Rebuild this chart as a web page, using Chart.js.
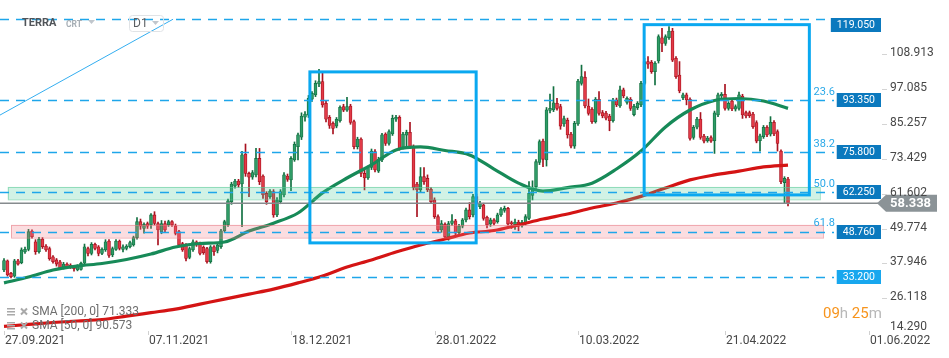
<!DOCTYPE html>
<html><head><meta charset="utf-8">
<script src="https://cdn.jsdelivr.net/npm/chart.js@4.4.0/dist/chart.umd.min.js"></script>
<style>html,body{margin:0;padding:0;background:#fff;}#wrap{width:949px;height:358px;position:relative;}</style>
</head><body><div id="wrap"><canvas id="c" width="949" height="358"></canvas></div>
<script>
// ---- candle data (daily, index 0 = 27.09.2021) ----
const opens = [
35.7,38.8,34.6,33.6,38.8,38.2,41.8,42.7,48.9,45.3,
41.9,46.2,43.8,43.0,40.2,39.1,38.5,36.6,37.7,37.4,
36.8,35.7,35.9,38.0,43.0,41.3,44.4,43.6,41.3,42.5,
45.5,40.8,42.7,45.5,42.7,43.0,43.6,44.2,46.7,52.1,
49.8,51.5,51.0,54.4,51.5,48.7,51.5,51.0,52.1,50.7,
48.7,44.7,44.2,40.0,42.5,45.3,44.7,43.4,43.0,38.5,
43.6,42.3,43.6,49.0,51.0,58.9,64.2,65.9,64.9,75.1,
68.5,67.2,68.0,73.6,67.6,61.7,60.6,62.3,54.4,58.9,
61.2,67.6,66.3,73.1,77.6,80.8,87.6,88.3,93.7,95.2,
98.9,99.7,92.3,87.6,85.5,84.6,86.4,91.2,90.0,91.4,
86.1,77.6,80.2,68.5,67.0,70.5,75.9,69.3,73.1,81.9,
78.7,81.9,86.9,87.6,77.4,81.5,82.5,77.6,64.9,62.9,
67.4,66.8,63.1,59.5,53.8,49.3,51.2,47.0,51.5,52.4,
48.4,50.6,52.7,56.1,54.4,60.6,57.2,57.8,53.6,51.3,
52.7,52.1,54.4,55.9,56.6,51.8,51.0,52.0,50.8,51.5,
53.2,61.0,64.0,72.2,79.5,73.1,89.9,90.1,92.3,91.2,
85.3,86.6,81.9,77.8,85.3,99.1,101.2,91.4,90.3,86.1,
93.7,89.2,89.0,88.0,86.4,93.5,91.4,96.9,92.6,93.7,
88.5,90.8,91.8,99.1,106.5,106.3,103.1,106.7,114.6,112.7,
114.6,116.9,107.6,101.95,94.2,95.2,93.7,80.7,84.2,87.0,
81.2,79.6,80.7,79.6,88.4,94.8,95.4,90.6,93.1,90.3,
90.6,94.8,89.15,89.15,88.7,85.8,79.6,81.0,84.2,81.8,
85.9,82.7,76.1,65.4,66.6];
const highs = [
39.6,39.1,34.9,39.3,39.3,43.2,43.5,49.5,49.3,46.0,
46.8,46.7,44.3,43.5,40.6,39.6,39.0,38.3,38.1,37.8,
37.2,37.5,38.4,44.5,43.5,45.0,44.8,44.0,43.2,46.0,
46.0,43.5,46.0,45.9,44.2,44.3,45.5,47.2,53.5,53.0,
51.7,52.0,54.9,55.5,52.0,52.5,52.3,52.6,52.5,51.3,
49.2,45.1,44.7,43.5,45.9,45.6,45.2,43.9,43.4,44.0,
44.0,44.7,49.5,52.6,59.8,65.5,66.5,66.5,76.0,78.5,
69.0,69.5,77.0,77.0,68.0,62.3,63.0,63.0,60.3,63.0,
68.8,68.3,74.2,79.2,82.2,89.1,89.5,95.0,96.3,100.0,
103.9,103.0,93.0,88.2,86.0,87.5,91.5,92.0,94.4,92.0,
86.6,80.8,80.6,70.0,71.0,76.8,76.6,74.0,82.1,82.3,
83.3,88.3,88.2,88.1,82.5,83.2,85.9,78.2,65.5,70.5,
70.5,68.0,63.7,60.2,54.4,52.5,51.7,52.2,54.5,52.9,
51.2,53.2,56.7,58.6,61.4,61.5,59.0,58.4,54.0,53.3,
53.2,55.0,56.9,57.4,57.0,52.3,53.0,52.6,52.6,54.5,
65.7,66.0,73.2,79.9,80.2,90.9,95.5,98.0,94.0,92.0,
88.0,87.3,82.5,86.2,100.5,105.3,103.1,93.8,90.9,94.3,
96.3,89.9,89.6,88.6,94.0,94.1,98.2,97.5,94.5,94.3,
92.0,92.9,99.8,107.6,108.2,106.9,106.5,115.6,117.8,115.6,
118.4,117.8,108.2,106.5,95.8,95.8,94.2,84.8,87.6,89.2,
81.8,81.1,81.3,89.7,95.8,96.0,98.8,92.9,93.7,91.8,
96.1,95.4,89.7,89.7,89.3,86.4,81.9,84.8,84.8,87.8,
86.5,83.3,76.5,67.4,67.2];
const lows = [
35.1,33.6,33.0,33.2,37.3,37.8,41.3,42.2,46.5,41.0,
41.4,43.0,42.0,39.0,38.0,37.0,36.0,36.0,36.2,36.2,
35.3,35.4,35.6,37.6,40.5,40.8,42.5,40.5,40.9,42.0,
40.0,40.2,42.3,42.5,41.8,42.5,43.2,43.8,46.2,49.5,
48.2,49.8,49.8,51.0,44.2,48.0,48.7,50.5,50.5,47.6,
43.6,42.0,38.8,39.5,42.0,43.7,40.8,41.0,38.0,38.0,
40.6,41.5,43.0,48.5,50.5,58.0,63.5,63.8,50.4,67.5,
60.6,66.5,67.3,64.7,60.0,58.0,60.0,53.6,53.8,58.2,
60.5,65.8,62.6,72.6,73.1,80.0,86.3,87.5,93.0,94.6,
98.0,91.0,86.0,83.8,81.9,84.0,85.9,89.5,89.6,85.2,
76.8,76.8,67.4,62.9,66.5,69.8,69.0,68.8,72.5,78.0,
78.1,81.4,86.2,76.4,76.8,77.0,77.0,62.9,53.8,62.3,
64.8,62.3,58.2,53.2,48.7,48.5,46.3,45.8,50.8,47.5,
47.8,50.0,52.0,53.0,53.7,57.8,56.5,52.6,50.0,50.5,
51.0,51.6,53.9,55.3,50.9,49.8,49.5,49.0,50.2,51.0,
52.8,59.5,63.4,71.5,70.8,71.0,89.1,89.5,90.0,83.5,
84.5,80.5,77.2,77.0,84.8,98.5,90.8,88.3,85.5,85.6,
88.3,87.4,86.7,83.0,85.9,91.2,90.9,94.2,92.0,89.9,
88.0,90.2,91.2,98.6,104.2,102.5,98.6,106.0,109.9,112.0,
114.0,106.5,100.8,95.9,93.6,91.8,79.8,80.1,83.6,80.1,
78.9,79.1,79.0,75.3,87.8,94.2,90.0,90.0,89.8,89.7,
90.0,87.2,87.4,87.5,83.8,78.9,76.1,80.4,81.0,81.2,
81.3,76.1,65.0,58.5,57.5];
const closes = [
38.9,34.0,33.4,38.8,37.7,42.5,42.7,48.7,47.0,41.9,
46.2,43.6,42.5,39.5,38.5,37.7,36.5,37.7,36.6,36.6,
36.1,37.0,38.0,43.6,41.3,44.4,43.0,41.3,42.7,45.3,
40.6,43.0,45.5,43.0,43.6,43.8,45.0,46.7,52.1,50.6,
51.2,50.6,54.4,51.5,49.3,51.5,49.3,52.1,51.0,48.1,
44.2,42.5,39.6,43.0,45.3,44.2,41.3,41.6,38.5,43.6,
41.9,44.2,49.0,52.1,59.2,64.9,65.9,64.6,74.8,68.5,
67.2,68.8,73.6,65.7,61.2,58.9,62.5,54.4,59.5,62.3,
68.0,66.5,73.6,78.4,81.6,88.0,88.7,94.0,95.7,99.1,
99.7,91.8,86.9,84.8,83.8,86.9,91.0,90.0,91.2,85.8,
77.6,80.2,68.5,67.0,70.5,76.1,69.7,73.3,81.6,78.7,
82.7,87.2,87.6,77.0,81.9,82.5,77.6,63.7,62.9,67.4,
65.7,62.9,58.9,53.8,49.3,51.5,47.0,51.5,52.4,48.2,
50.6,52.7,56.1,53.8,60.6,58.5,58.3,53.2,51.0,52.7,
51.5,54.4,56.4,56.6,51.3,51.4,52.0,50.6,51.9,53.8,
61.7,63.4,72.5,79.3,73.3,90.1,90.6,92.5,90.6,84.6,
87.1,81.6,77.8,85.5,99.9,101.4,91.4,88.9,86.1,93.7,
88.9,88.0,87.3,86.4,93.4,91.8,96.9,94.8,94.0,90.6,
91.3,92.3,99.1,106.5,105.6,103.1,105.9,115.0,112.7,115.0,
116.9,107.0,101.4,96.5,95.2,93.5,80.4,84.2,87.0,80.7,
79.5,80.5,79.5,89.1,95.2,95.4,90.6,92.3,90.4,91.2,
95.2,88.4,88.0,88.1,84.4,79.5,81.3,84.2,81.6,85.9,
81.9,78.7,65.7,66.8,58.338];

// ---- moving averages (every 7th candle) ----
const smaIdx = [0,7,14,21,28,35,42,49,56,63,70,77,84,91,98,105,112,119,126,133,140,147,154,161,168,175,182,189,196,203,210,217,224];
const sma50 = [31.3,33.3,35.7,37.05,37.9,39.25,41.1,43.5,44.7,45.2,48.9,51.6,55.05,61.9,66.95,71.4,76.5,77.5,76.3,74.8,70.0,65.2,62.5,63.7,65.2,70.0,76.1,84.3,90.05,93.3,93.96,93.1,90.6];
const sma200 = [16.5,17.2,17.85,18.35,18.86,20.0,21.2,22.4,24.1,25.8,27.5,29.2,31.3,33.65,36.7,39.1,41.8,44.2,46.2,48.25,49.1,51.0,53.0,54.7,56.75,58.45,60.7,63.55,66.3,68.0,69.3,70.7,71.33];
const smaNames = ['SMA [200, 0] 71.333','SMA [50, 0] 90.573'];

// ---- axes ----
const yTicks = [14.290,26.118,37.946,49.774,61.602,73.429,85.257,97.085,108.913];
const xTickIdx = [0,41,82,123,164,206,247];
const xTickLabels = ['27.09.2021','07.11.2021','18.12.2021','28.01.2022','10.03.2022','21.04.2022','01.06.2022'];

// ---- drawings ----
const levelVals = [120.9,93.35,75.8,62.25,48.76,33.2];
const fibVals = [93.35,75.8,62.25,48.76];
const fibNames = ['23.6','38.2','50.0','61.8'];
const tagVals = [119.05,93.35,75.8,62.25,48.76,33.2];
const tagTexts = ['119.050','93.350','75.800','62.250','48.760','33.200'];
const lastPrice = 58.338;
const greenZone = [59.7,63.9], greenZoneIdx = [1.1,233.1];
const pinkZone = [46.7,51.0], pinkZoneIdx = [2,234];
const rect1Idx = [87.4,134.9], rect1Vals = [44.9,103.0];
const rect2Idx = [182.9,230.1], rect2Vals = [61.2,119.05];
const trendIdx = [-1.2,48.3], trendVals = [88.3,120.9];

const N = closes.length;
const idx = Array.from({length:N},(_, i)=>i);
const up = i => closes[i] >= opens[i];
const fillUp='#2f9b66', lineUp='#127041', fillDn='#e23a47', lineDn='#a8121f';

const overlay = {
  id:'overlay',
  afterDatasetsDraw(chart){
    const {ctx, chartArea:a, scales:{x,y}} = chart;
    const X = v => x.getPixelForValue(v), Y = v => y.getPixelForValue(v);
    ctx.save();
    const zone = (vals, ix, fill, stroke) => {
      const x0=X(ix[0]), x1=X(ix[1]), y0=Y(vals[1]), y1=Y(vals[0]);
      ctx.fillStyle=fill; ctx.fillRect(x0,y0,x1-x0,y1-y0);
      ctx.strokeStyle=stroke; ctx.lineWidth=1; ctx.strokeRect(x0+0.5,y0+0.5,x1-x0,y1-y0);
    };
    zone(greenZone, greenZoneIdx, 'rgba(70,205,150,0.25)', 'rgba(90,200,150,0.55)');
    zone(pinkZone, pinkZoneIdx, 'rgba(240,120,130,0.25)', 'rgba(230,120,130,0.55)');
    ctx.strokeStyle='#868b8e'; ctx.lineWidth=1.5; ctx.setLineDash([]);
    ctx.beginPath(); ctx.moveTo(a.left, Y(lastPrice)); ctx.lineTo(878, Y(lastPrice)); ctx.stroke();
    ctx.strokeStyle='#1ea6ea'; ctx.lineWidth=1.3; ctx.setLineDash([9,7]);
    levelVals.forEach(v=>{ const yy=Math.round(Y(v))+0.5; ctx.beginPath(); ctx.moveTo(a.left, yy); ctx.lineTo(834, yy); ctx.stroke(); });
    ctx.setLineDash([]);
    ctx.strokeStyle='#0aa8f0'; ctx.lineWidth=3;
    [[rect1Idx,rect1Vals],[rect2Idx,rect2Vals]].forEach(([ix,vv])=>{
      const x0=X(ix[0]), x1=X(ix[1]), y0=Y(vv[1]), y1=Y(vv[0]);
      ctx.strokeRect(x0,y0,x1-x0,y1-y0);
    });
    ctx.font='11px Roboto'; ctx.fillStyle='#29a8e8'; ctx.textAlign='right'; ctx.textBaseline='middle';
    fibVals.forEach((v,k)=>ctx.fillText(fibNames[k], 835, Y(v)-8));
    ctx.font='10.5px Roboto'; ctx.textAlign='right';
    tagVals.forEach((v,k)=>{
      const w=ctx.measureText(tagTexts[k]).width+12, yc=Y(v);
      ctx.fillStyle = k===tagVals.length-1 ? '#18a7ee' : '#0b79be';
      ctx.fillRect(881-w, Math.round(yc-7), w, 14);
      ctx.fillStyle='#ffffff'; ctx.fillText(tagTexts[k], 875, yc+0.5);
    });
    const yp=Y(lastPrice);
    ctx.fillStyle='#8b9397';
    ctx.beginPath(); ctx.moveTo(877,yp); ctx.lineTo(886,yp-8.5); ctx.lineTo(937,yp-8.5); ctx.lineTo(937,yp+8.5); ctx.lineTo(886,yp+8.5); ctx.closePath(); ctx.fill();
    ctx.fillStyle='#ffffff'; ctx.font='bold 13px Roboto'; ctx.textAlign='left'; ctx.fillText(lastPrice.toFixed(3), 890, yp+0.5);
    ctx.font='12px Roboto'; ctx.fillStyle='#474747'; ctx.textAlign='left';
    yTicks.forEach(v=>{
      let yy=Y(v)-1;
      if (yy>a.bottom-8){ yy=327; }
      else { ctx.strokeStyle='#d4d4d4'; ctx.lineWidth=1; ctx.beginPath(); ctx.moveTo(882,Math.round(Y(v))+0.5); ctx.lineTo(887,Math.round(Y(v))+0.5); ctx.stroke(); }
      ctx.fillStyle='#474747';
      ctx.fillText(v.toFixed(3), 890, yy);
    });
    xTickIdx.forEach((t,k)=>{
      const xx=Math.round(X(t))+0.5;
      ctx.strokeStyle='#d0d0d0'; ctx.lineWidth=1; ctx.beginPath(); ctx.moveTo(xx,a.bottom-2); ctx.lineTo(xx,a.bottom+2); ctx.stroke();
      ctx.fillStyle='#474747'; ctx.font='12px Roboto'; ctx.textAlign='left'; ctx.textBaseline='middle';
      ctx.fillText(xTickLabels[k], xx+0.5, 341);
    });
    ctx.textBaseline='middle'; ctx.textAlign='left';
    ctx.font='bold 11px Roboto'; ctx.fillStyle='#505459'; ctx.fillText('TERRA', 22, 23.5);
    ctx.font='bold 8.5px Roboto'; ctx.fillStyle='#a6aeb5'; ctx.fillText('CRT', 66, 24.5);
    const tri=(x0,y0,c)=>{ctx.fillStyle=c; ctx.beginPath(); ctx.moveTo(x0,y0); ctx.lineTo(x0+7,y0); ctx.lineTo(x0+3.5,y0+4); ctx.closePath(); ctx.fill();};
    tri(88,20,'#c0c6cc');
    ctx.strokeStyle='#e0e3e6'; ctx.lineWidth=1; ctx.beginPath(); ctx.roundRect(129.5,15.5,34,16,3); ctx.stroke();
    ctx.font='12px Roboto'; ctx.fillStyle='#5a5e62'; ctx.fillText('D1', 133, 24);
    tri(152,21,'#c0c6cc');
    ctx.font='12px Roboto';
    smaNames.forEach((s,k)=>{
      const yy=312+k*14;
      ctx.fillStyle='#a9a9a9';
      ctx.fillRect(7,yy-4,8,1.5); ctx.fillRect(7,yy-1,8,1.5); ctx.fillRect(7,yy+2,8,1.5);
      ctx.strokeStyle='#a9a9a9'; ctx.lineWidth=2; ctx.beginPath(); ctx.moveTo(21,yy-3.5); ctx.lineTo(27,yy+2.5); ctx.moveTo(27,yy-3.5); ctx.lineTo(21,yy+2.5); ctx.stroke();
      ctx.fillStyle='#6f6f6f'; ctx.fillText(s, 32, yy);
    });
    ctx.font='15px Roboto'; let cx=823; const cy=314;
    [['09','#f7941d'],['h ','#b8b8b8'],['25','#f7941d'],['m','#b8b8b8']].forEach(([t,c])=>{ctx.fillStyle=c; ctx.fillText(t,cx,cy); cx+=ctx.measureText(t).width;});
    ctx.restore();
  }
};

new Chart(document.getElementById('c'), {
  type:'bar',
  data:{ datasets:[
    { type:'line', data: trendIdx.map((t,k)=>({x:t,y:trendVals[k]})), borderColor:'#34aef0', borderWidth:1, pointRadius:0, order:0 },
    { type:'line', data: smaIdx.map((t,k)=>({x:t,y:sma50[k]})), borderColor:'#178a58', borderWidth:3.2, pointRadius:0, tension:0.4, cubicInterpolationMode:'monotone', order:1 },
    { type:'line', data: smaIdx.map((t,k)=>({x:t,y:sma200[k]})), borderColor:'#d41414', borderWidth:3.2, pointRadius:0, tension:0.4, cubicInterpolationMode:'monotone', order:1 },
    { data: idx.map(i=>({x:i,y:[opens[i],closes[i]]})), backgroundColor: idx.map(i=>up(i)?fillUp:fillDn), borderColor: idx.map(i=>up(i)?lineUp:lineDn), borderWidth:0.8, borderSkipped:false, barThickness:3, minBarLength:1, grouped:false, order:2 },
    { data: idx.map(i=>({x:i,y:[lows[i],highs[i]]})), backgroundColor: idx.map(i=>up(i)?lineUp:lineDn), barThickness:1, grouped:false, order:3 }
  ]},
  options:{
    responsive:false, animation:false, events:[],
    layout:{padding:{left:0,right:117,top:0,bottom:25}},
    plugins:{legend:{display:false}, tooltip:{enabled:false}},
    scales:{
      x:{type:'linear', min:-1.143, max:236.57, offset:false, display:false},
      y:{type:'linear', min:14.28, max:127.43, display:false}
    }
  },
  plugins:[overlay]
});
</script>
</body></html>
